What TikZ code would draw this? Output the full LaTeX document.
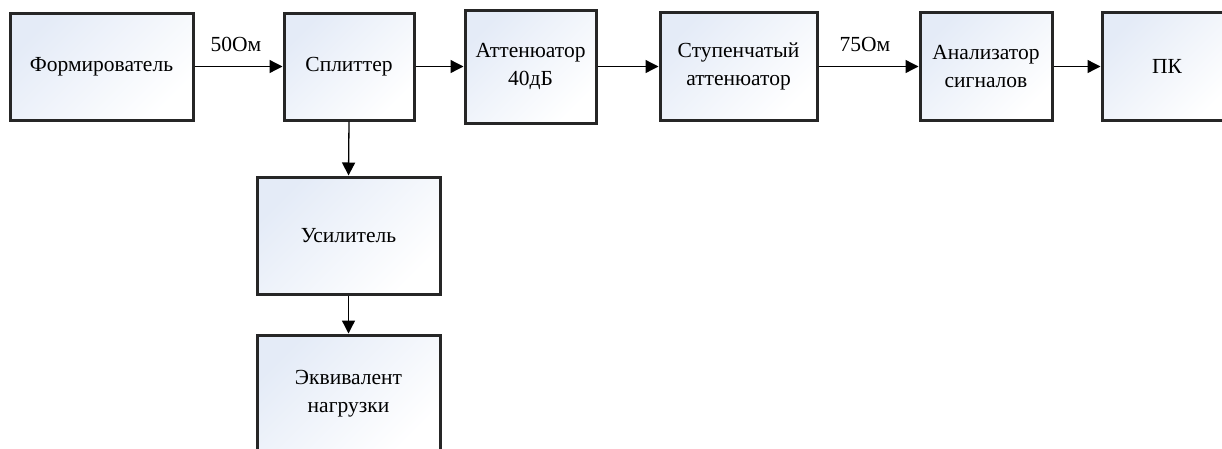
\documentclass[tikz,border=0pt]{standalone}
\usepackage{fontspec}
\setmainfont{Liberation Serif}
\usetikzlibrary{arrows.meta}
\definecolor{shadeblue}{HTML}{E4EBF7}
\begin{document}
\begin{tikzpicture}[x=1pt,y=-1pt,
  blk/.style={draw=black!85, line width=3pt, top color=shadeblue, bottom color=white, shading angle=45,
    align=center, font=\fontsize{21.5}{28}\selectfont, inner sep=0pt},
  conn/.style={line width=1.3pt, -{Triangle[length=13pt,width=13pt]}},
  lbl/.style={font=\fontsize{21.5}{24}\selectfont, inner sep=0pt}]
\useasboundingbox (0,0) rectangle (1222,448);
\node[blk, minimum width=183, minimum height=107] (f) at (101.5,66.5) {Формирователь};
\node[blk, minimum width=130, minimum height=107] (s) at (349,66.5) {Сплиттер};
\node[blk, minimum width=131, minimum height=113] (att) at (530.5,66.5) {Аттенюатор\\40дБ};
\node[blk, minimum width=157, minimum height=108] (st) at (738.5,66.5) {Ступенчатый\\аттенюатор};
\node[blk, minimum width=132, minimum height=108] (an) at (986,66.5) {Анализатор\\сигналов};
\node[blk, minimum width=130, minimum height=108] (pk) at (1167,66.5) {ПК};
\node[blk, minimum width=183, minimum height=117] (us) at (348.5,235.5) {Усилитель};
\node[blk, minimum width=183, minimum height=117] (eq) at (348.5,393.5) {Эквивалент\\нагрузки};
\node[lbl] (l50) at (236,44) {50Ом};
\node[lbl] (l75) at (865,44) {75Ом};
\draw[conn] (f.east) -- (s.west);
\draw[conn] (s.east) -- (att.west);
\draw[conn] (att.east) -- (st.west);
\draw[conn] (st.east) -- (an.west);
\draw[conn] (an.east) -- (pk.west);
\draw[conn] (s.south) -- (us.north);
\draw[conn] (us.south) -- (eq.north);
\end{tikzpicture}
\end{document}
